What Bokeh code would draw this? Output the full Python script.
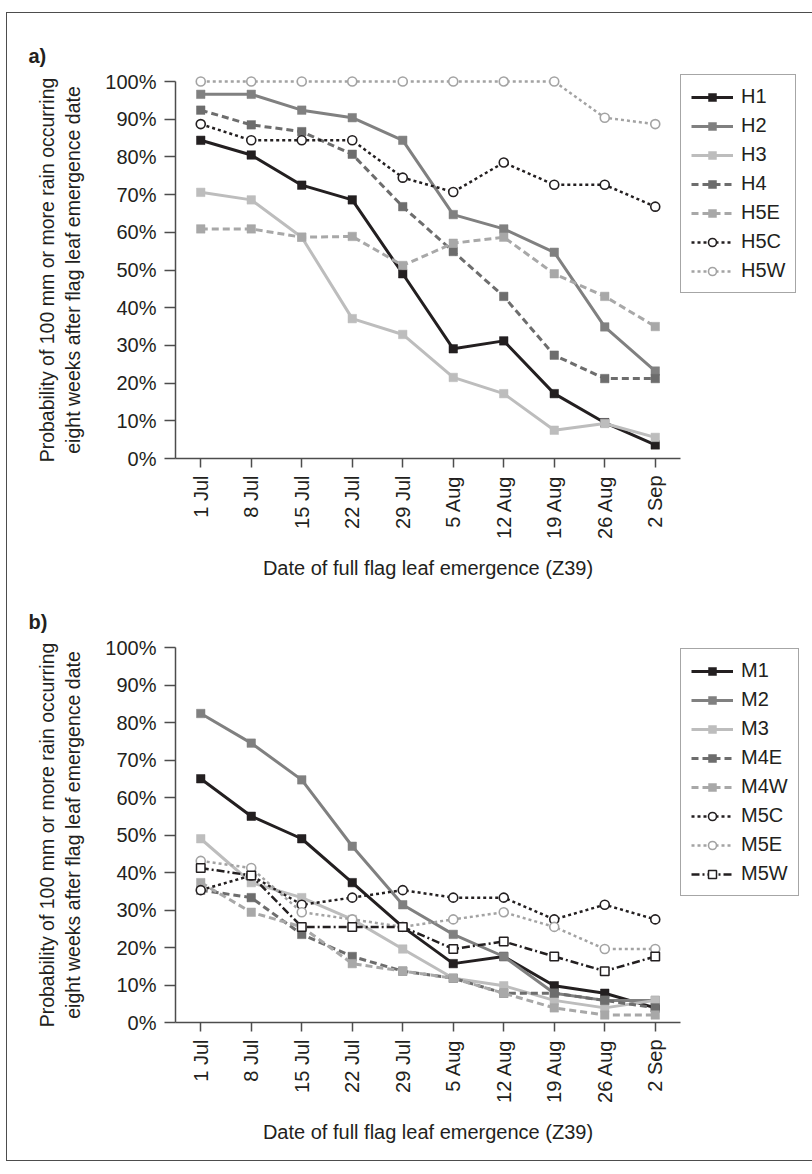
import math
from bokeh.plotting import figure
from bokeh.models import Legend, LegendItem, PrintfTickFormatter, Range1d, FactorRange
from bokeh.layouts import column
from bokeh.embed import file_html
from bokeh.resources import INLINE

dates = ["1 Jul", "8 Jul", "15 Jul", "22 Jul", "29 Jul", "5 Aug", "12 Aug", "19 Aug", "26 Aug", "2 Sep"]

# Panel a
H1 = [84.4, 80.5, 72.5, 68.6, 49.0, 29.1, 31.2, 17.2, 9.5, 3.6]
H2 = [96.6, 96.6, 92.4, 90.4, 84.4, 64.7, 60.9, 54.7, 34.9, 23.2]
H3 = [70.6, 68.6, 58.7, 37.1, 32.9, 21.5, 17.2, 7.5, 9.3, 5.6]
H4 = [92.4, 88.5, 86.7, 80.7, 66.8, 54.9, 43.0, 27.4, 21.2, 21.2]
H5E = [60.9, 60.9, 58.7, 58.9, 51.2, 57.1, 58.7, 49.0, 43.0, 35.0]
H5C = [88.7, 84.4, 84.4, 84.4, 74.5, 70.7, 78.5, 72.6, 72.6, 66.8]
H5W = [100, 100, 100, 100, 100, 100, 100, 100, 90.4, 88.7]

# Panel b
M1 = [65.0, 55.0, 49.0, 37.3, 25.5, 15.7, 17.6, 9.8, 7.8, 3.9]
M2 = [82.4, 74.5, 64.7, 47.0, 31.4, 23.5, 17.6, 7.8, 5.9, 5.9]
M3 = [49.0, 37.3, 33.3, 27.5, 19.6, 11.8, 9.8, 5.9, 3.9, 5.9]
M4E = [35.3, 33.3, 23.5, 17.6, 13.7, 11.8, 7.8, 7.8, 5.9, 3.9]
M4W = [37.3, 29.4, 25.5, 15.7, 13.7, 11.8, 7.8, 3.9, 2.0, 2.0]
M5C = [35.3, 39.2, 31.4, 33.3, 35.3, 33.3, 33.3, 27.5, 31.4, 27.5]
M5E = [43.1, 41.2, 29.4, 27.5, 25.5, 27.5, 29.4, 25.5, 19.6, 19.6]
M5W = [41.2, 39.2, 25.5, 25.5, 25.5, 19.6, 21.6, 17.6, 13.7, 17.6]

FONT = "Liberation Sans"
TXT = "#231f20"
AX = "#4d4d4d"
FS = "20px"

BLACK = "#231f20"
MID = "#808080"
LIGHT = "#bdbdbd"
DARK = "#6d6d6d"
LDASH = "#a8a8a8"
LDOT = "#a3a3a3"

# name, values, color, dash, width, marker, fill
SER_A = [
    ("H1", H1, BLACK, "solid", 3, "square", BLACK),
    ("H2", H2, MID, "solid", 3, "square", MID),
    ("H3", H3, LIGHT, "solid", 3, "square", LIGHT),
    ("H4", H4, DARK, "7 4", 3, "square", DARK),
    ("H5E", H5E, LDASH, "7 4", 3, "square", LDASH),
    ("H5C", H5C, BLACK, "3 3", 2.5, "circle", "white"),
    ("H5W", H5W, LDOT, "3 3", 2.5, "circle", "white"),
]
SER_B = [
    ("M1", M1, BLACK, "solid", 3, "square", BLACK),
    ("M2", M2, MID, "solid", 3, "square", MID),
    ("M3", M3, LIGHT, "solid", 3, "square", LIGHT),
    ("M4E", M4E, DARK, "7 4", 3, "square", DARK),
    ("M4W", M4W, LDASH, "7 4", 3, "square", LDASH),
    ("M5C", M5C, BLACK, "3 3", 2.5, "circle", "white"),
    ("M5E", M5E, LDOT, "3 3", 2.5, "circle", "white"),
    ("M5W", M5W, BLACK, "8 3 2 3", 2.5, "square", "white"),
]


def make_panel(tag, series, frame_h, border_top, border_bottom, legend_vy):
    p = figure(frame_width=505, frame_height=frame_h, x_range=FactorRange(*dates),
               y_range=Range1d(0, 100), output_backend="svg", toolbar_location=None,
               min_border_left=168, min_border_right=125,
               min_border_top=border_top, min_border_bottom=border_bottom)
    p.outline_line_color = None
    p.xgrid.grid_line_color = None
    p.ygrid.grid_line_color = None
    p.background_fill_color = "white"
    p.border_fill_color = "white"

    p.title.text = tag
    p.title.text_font = FONT
    p.title.text_font_size = "20px"
    p.title.text_font_style = "bold"
    p.title.text_color = TXT
    p.title.align = "left"
    p.title.offset = -147
    p.title.standoff = 30

    p.yaxis.ticker = list(range(0, 101, 10))
    p.yaxis.formatter = PrintfTickFormatter(format="%d%%")
    p.yaxis.axis_label = "Probability of 100 mm or more rain occurring\neight weeks after flag leaf emergence date"
    p.xaxis.axis_label = "Date of full flag leaf emergence (Z39)"
    p.xaxis.major_label_orientation = math.pi / 2

    for ax in (p.xaxis[0], p.yaxis[0]):
        ax.axis_line_color = AX
        ax.axis_line_width = 1.5
        ax.major_tick_line_color = AX
        ax.major_tick_line_width = 1.5
        ax.minor_tick_line_color = None
        ax.major_tick_in = 0
        ax.major_label_text_font = FONT
        ax.major_label_text_font_size = FS
        ax.major_label_text_color = TXT
        ax.axis_label_text_font = FONT
        ax.axis_label_text_font_style = "normal"
        ax.axis_label_text_color = TXT
    p.xaxis.axis_label_text_font_size = "20px"
    p.yaxis.axis_label_text_font_size = "19.5px"
    p.yaxis.major_tick_out = 11
    p.xaxis.major_tick_out = 9
    p.yaxis.major_label_standoff = 8
    p.xaxis.major_label_standoff = 8
    p.yaxis.axis_label_standoff = 18
    p.xaxis.axis_label_standoff = 15

    items = []
    for name, vals, color, dash, lw, marker, fill in series:
        lr = p.line(dates, vals, line_color=color, line_width=lw, line_dash=dash, level="overlay")
        if marker == "square":
            sr = p.scatter(dates, vals, marker="square", size=8.5, fill_color=fill,
                           line_color=color, line_width=1.5 if fill == "white" else 0.5, level="overlay")
        else:
            sr = p.scatter(dates, vals, marker="circle", size=9, fill_color=fill,
                           line_color=color, line_width=1.6, level="overlay")
        items.append(LegendItem(label=name, renderers=[lr, sr]))

    legend = Legend(items=items, location=(0, legend_vy))
    legend.label_text_font = FONT
    legend.label_text_font_size = FS
    legend.label_text_color = TXT
    legend.glyph_width = 42
    legend.glyph_height = 20
    legend.label_height = 20
    legend.label_standoff = 8
    legend.spacing = 6
    legend.padding = 10
    legend.margin = 0
    legend.border_line_color = AX
    legend.border_line_width = 1.5
    legend.background_fill_color = "white"
    legend.background_fill_alpha = 1
    p.add_layout(legend, "right")
    return p


pa = make_panel("a)", SER_A, 377, 68, 133, 165)
pb = make_panel("b)", SER_B, 375, 56, 138, 126)

layout = column(pa, pb, styles={"border": "1px solid #4d4d4d",
                                "margin-left": "6px", "margin-top": "12px"})
open("out.html", "w").write(file_html(layout, INLINE))
